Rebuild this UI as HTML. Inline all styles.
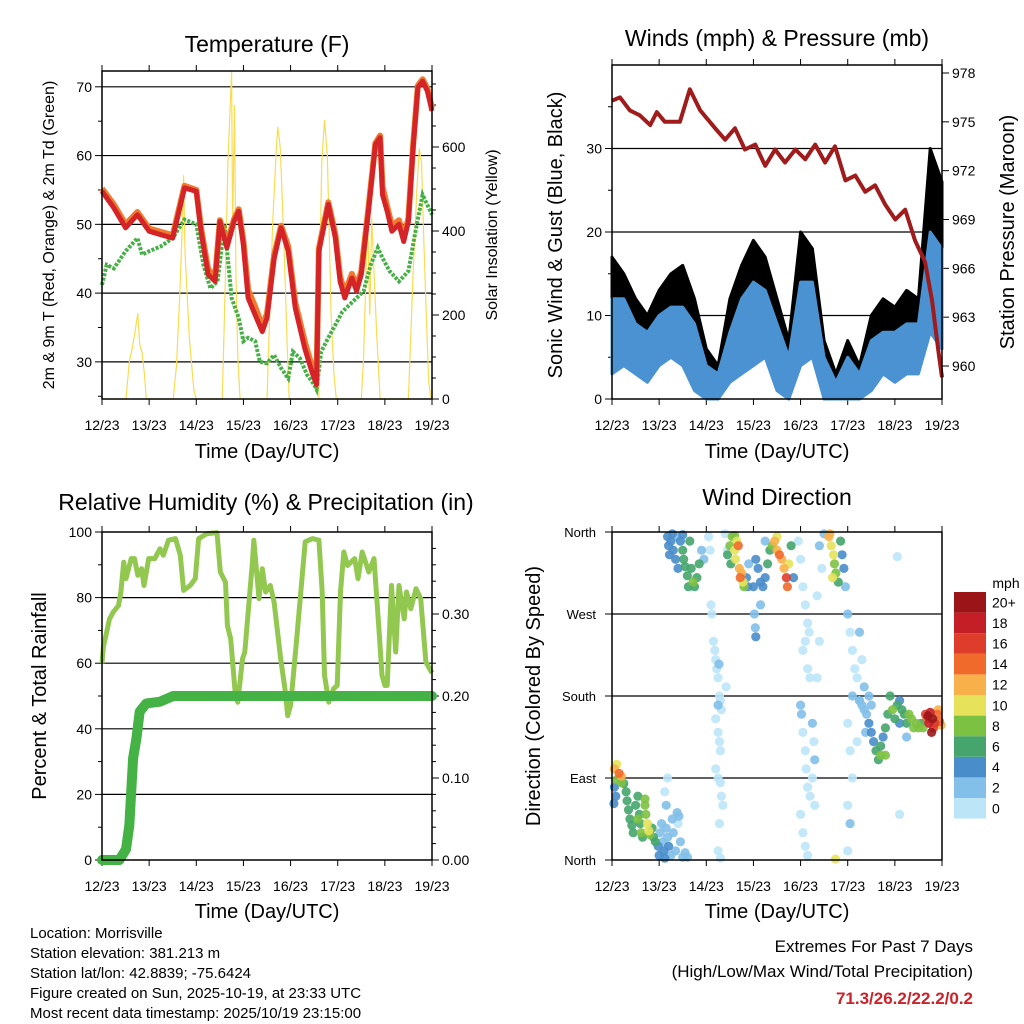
<!DOCTYPE html>
<html><head><meta charset="utf-8"><style>
html,body{margin:0;padding:0;background:#fff;}
svg{display:block;font-family:"Liberation Sans",Arial,sans-serif;}
</style></head><body>
<svg id="root" width="1024" height="1024" viewBox="0 0 1024 1024" xmlns="http://www.w3.org/2000/svg">
<rect width="1024" height="1024" fill="#fff"/>
<text x="267" y="52" font-size="23" text-anchor="middle">Temperature (F)</text>
<text x="777" y="46" font-size="23" text-anchor="middle">Winds (mph) &amp; Pressure (mb)</text>
<text x="266" y="510" font-size="23" text-anchor="middle">Relative Humidity (%) &amp; Precipitation (in)</text>
<text x="777" y="505" font-size="23" text-anchor="middle">Wind Direction</text>
<text x="267" y="458" font-size="20" text-anchor="middle">Time (Day/UTC)</text>
<text x="777" y="458" font-size="20" text-anchor="middle">Time (Day/UTC)</text>
<text x="267" y="918" font-size="20" text-anchor="middle">Time (Day/UTC)</text>
<text x="777" y="918" font-size="20" text-anchor="middle">Time (Day/UTC)</text>
<text transform="translate(54,235) rotate(-90)" font-size="16" text-anchor="middle">2m &amp; 9m T (Red, Orange) &amp; 2m Td (Green)</text>
<text transform="translate(497,235) rotate(-90)" font-size="16" text-anchor="middle">Solar Insolation (Yellow)</text>
<text transform="translate(562,235) rotate(-90)" font-size="20" text-anchor="middle">Sonic Wind &amp; Gust (Blue, Black)</text>
<text transform="translate(1014,232) rotate(-90)" font-size="20" text-anchor="middle">Station Pressure (Maroon)</text>
<text transform="translate(46,696) rotate(-90)" font-size="20" text-anchor="middle">Percent &amp; Total Rainfall</text>
<text transform="translate(540,696) rotate(-90)" font-size="20" text-anchor="middle">Direction (Colored By Speed)</text>
<g font-size="15">
<text x="30" y="938">Location: Morrisville</text>
<text x="30" y="958">Station elevation: 381.213 m</text>
<text x="30" y="978">Station lat/lon: 42.8839; -75.6424</text>
<text x="30" y="998">Figure created on Sun, 2025-10-19, at 23:33 UTC</text>
<text x="30" y="1018">Most recent data timestamp: 2025/10/19 23:15:00</text>
</g>
<g text-anchor="end" font-size="17">
<text x="973" y="952">Extremes For Past 7 Days</text>
<text x="973" y="977">(High/Low/Max Wind/Total Precipitation)</text>
<text x="973" y="1004" fill="#cc2229" font-weight="bold">71.3/26.2/22.2/0.2</text>
</g>
<text x="1006" y="588" font-size="14" text-anchor="middle">mph</text>
</svg>
<script>
// ---------- data ----------
const dayLabels = ["12/23","13/23","14/23","15/23","16/23","17/23","18/23","19/23"];
const tempTimes = [0,0.25,0.5,0.75,1.0,1.25,1.5,1.75,2.0,2.1,2.25,2.4,2.5,2.65,2.8,2.9,3.0,3.1,3.25,3.4,3.5,3.65,3.8,3.95,4.1,4.3,4.45,4.55,4.6,4.8,4.95,5.05,5.15,5.3,5.4,5.5,5.65,5.8,5.9,5.95,6.05,6.15,6.3,6.4,6.5,6.6,6.7,6.8,6.9,7.0];
const temp2m = [54.8,52.4,49.5,51.4,49,48.5,48,55.3,54.8,49,42.7,41.7,50.4,46.6,50.4,51.9,47,39.3,36.8,34.4,36.4,45,49.5,46.1,37.8,32,28.6,26.7,46.1,52.9,48,41.7,39.3,42.2,40.3,42.7,51.9,61.6,62.6,54.3,51.9,49,50,47.5,50.4,61.1,69.9,70.8,69.4,66.5];
const temp9m = [55.2,52.9,50,51.8,49.4,48.9,48.4,55.6,55,49.5,43.5,42.3,50.6,47.2,50.7,52.2,47.6,40.5,38,35.2,37,45.5,49.8,46.8,38.6,33,29.4,27.3,46.5,53.2,48.5,42.4,40,42.8,41,43.2,52.3,61.8,62.9,55.5,52.6,49.8,50.6,48.2,50.9,61.5,70.2,71.1,69.8,66.9];
const dewTimes = [0,0.1,0.25,0.5,0.75,0.85,1.0,1.25,1.5,1.75,2.0,2.15,2.3,2.45,2.6,2.75,2.9,3.0,3.1,3.25,3.35,3.5,3.65,3.8,3.95,4.05,4.2,4.35,4.5,4.55,4.65,4.8,4.95,5.1,5.25,5.4,5.55,5.7,5.85,5.95,6.1,6.3,6.5,6.65,6.8,7.0];
const dew2m = [41.2,44.1,43.6,46.1,48,45.6,46.1,46.8,48,50.7,50,44.1,40.7,41.7,50,39.3,36.4,33,33.5,33,30,29.8,31,29.1,27.6,31.5,30.5,28.1,26.7,26,31.5,33.5,35.4,37.3,38.3,39.3,40.3,44.1,46.6,45.1,43.2,41.7,43.2,49,54.3,51.4];
const solarTimes = [0,0.51,0.58,0.64,0.70,0.76,0.8,0.85,0.9,0.94,1.51,1.58,1.65,1.7,1.73,1.76,1.8,1.85,1.95,2.0,2.55,2.58,2.62,2.67,2.75,2.77,2.81,2.84,2.88,2.93,3.5,3.55,3.62,3.7,3.73,3.78,3.85,3.93,3.97,4.6,4.62,4.66,4.72,4.78,4.82,4.86,4.92,4.97,5.5,5.55,5.6,5.63,5.68,5.72,5.77,5.83,5.9,6.5,6.55,6.6,6.68,6.73,6.78,6.82,6.88,6.93,6.98,7.0];
const solarValues = [0,0,90,120,160,204,130,110,60,0,0,80,250,400,533,350,260,150,20,0,0,120,300,560,780,400,700,300,100,0,0,180,420,600,648,600,400,120,0,0,300,560,664,580,400,200,60,0,0,100,300,446,200,430,300,150,0,0,150,300,500,597,560,400,200,40,0,0];

const windTimes = [0,0.25,0.5,0.75,1,1.25,1.5,1.75,2,2.25,2.5,2.75,3,3.25,3.5,3.75,4,4.25,4.5,4.75,5,5.25,5.5,5.75,6,6.25,6.5,6.75,7];
const sonicLow = [3,4,3,2,4,5,4,1,0,0,2,3,4,5,1,0,4,5,0,0,0,0,1,3,2,3,3,8,6];
const sonicHigh = [12,12,9,8,10,11,11,9,4,3,8,12,14,13,9,5,14,14,5,2,5,3,7,8,8,9,9,20,18];
const gustLow = [5,7,5,4,6,8,7,3,0,0,4,5,7,7,3,0,7,7,0,0,0,0,3,5,4,5,5,12,10];
const gustHigh = [17,15,12,10,13,15,16,12,6,4,12,16,19,17,12,7,20,18,7,3,7,4,10,12,11,13,12,30,26];
const pressTimes = [0,0.17,0.38,0.59,0.81,0.95,1.12,1.44,1.65,1.87,2.19,2.4,2.61,2.82,3.04,3.25,3.46,3.67,3.89,4.1,4.31,4.52,4.73,4.95,5.16,5.37,5.58,5.8,6.01,6.22,6.43,6.64,6.79,6.92,7.0];
const pressValues = [976.3,976.5,975.7,975.4,974.8,975.6,975,975,977,975.7,974.6,973.9,974.6,973.3,973.6,972.3,973.3,972.5,973.3,972.7,973.6,972.5,973.5,971.4,971.7,970.7,971.1,969.9,969,969.6,967.7,966.4,964,961,959.3];

const rhTimes = [0,0.03,0.1,0.16,0.24,0.35,0.4,0.46,0.51,0.62,0.69,0.76,0.84,0.89,0.99,1.12,1.23,1.3,1.41,1.56,1.66,1.73,1.87,1.98,2.05,2.23,2.44,2.51,2.62,2.66,2.73,2.83,2.88,2.98,3.03,3.19,3.22,3.33,3.4,3.47,3.57,3.65,3.79,3.89,3.94,4.0,4.13,4.31,4.46,4.6,4.67,4.72,4.81,4.91,4.99,5.06,5.13,5.21,5.36,5.43,5.52,5.66,5.77,5.87,5.94,6.0,6.05,6.14,6.23,6.3,6.41,6.46,6.55,6.66,6.76,6.87,7.0];
const rhValues = [60,65,69.5,73.5,75.6,77.6,81.7,90.8,85.8,91.9,91.9,86.8,88.8,83.7,91.9,91.9,94.9,92.9,97.5,98,92.9,82.2,83.7,85.8,98,99.5,99.8,87.8,84.7,71.5,67.4,50.2,48.1,61.3,63.4,90.8,97.5,79.7,88.8,81.7,83.7,78.6,61.3,51.2,44,47.1,67.4,97,98,97.5,81.7,56.3,48.1,52.2,53.2,81.7,93.9,89.8,91.9,85.8,93.9,87.8,91.9,71.5,56.3,53.2,53.2,83.7,63.4,83.7,73.5,81.7,76.6,82.7,79.7,60.3,57];
const precipTimes = [0,0.37,0.51,0.58,0.66,0.73,0.8,0.94,1.23,1.51,7.0];
const precipValues = [0,0,0.013,0.042,0.124,0.148,0.181,0.191,0.193,0.2,0.2];

// wind direction observations: [day, degrees, mph]
const dirObs = [
[0.05,100,12],[0.1,105,10],[0.15,95,14],[0.2,92,12],[0.1,88,8],[0.05,80,4],[0.08,70,4],[0.04,62,4],[0.2,85,8],[0.25,84,6],
[0.3,75,6],[0.32,65,6],[0.35,55,7],[0.38,45,6],[0.42,38,6],[0.45,30,6],[0.5,60,7],[0.55,70,6],[0.58,50,7],[0.6,40,6],[0.62,30,8],[0.65,25,6],[0.7,60,9],[0.72,50,9],[0.75,40,10],[0.78,32,10],[0.8,28,8],[0.85,35,6],[0.88,25,6],[0.92,20,7],[0.7,67,8],[0.55,45,8],
[0.98,15,4],[1.0,5,4],[1.02,30,2],[1.05,40,2],[1.08,20,3],[1.1,10,4],[1.12,2,4],[1.15,35,2],[1.18,25,3],[1.2,15,4],[1.25,5,3],[1.28,45,3],[1.3,30,2],[1.35,10,3],[1.4,40,1],[1.45,20,2],[1.5,3,3],[1.55,8,2],[1.6,3,2],[1.15,60,2],[1.12,75,1],[1.18,90,1],[1.38,52,2],[1.42,48,3],
[1.18,355,4],[1.2,345,4],[1.22,335,5],[1.25,350,4],[1.3,340,4],[1.35,330,5],[1.4,320,5],[1.45,350,4],[1.5,340,6],[1.52,330,7],[1.55,322,6],[1.6,312,6],[1.62,300,7],[1.68,320,7],[1.72,305,8],[1.75,300,7],[1.8,310,7],[1.85,325,6],[1.9,340,3],[1.95,330,2],[1.28,358,4],[1.5,357,5],[1.38,355,3],[1.65,350,6],
[2.05,355,1],[2.08,340,0],[2.1,280,1],[2.12,270,0],[2.15,240,1],[2.18,230,0],[2.2,220,1],[2.22,210,0],[2.25,200,1],[2.28,180,0],[2.3,175,1],[2.32,165,0],[2.2,155,1],[2.25,140,0],[2.28,130,1],[2.3,120,0],[2.2,100,0],[2.25,90,1],[2.3,85,0],[2.32,70,1],[2.35,60,0],[2.28,40,1],[2.25,10,0],[2.3,2,0],[2.45,340,1],[2.4,358,0],[2.42,190,1],[2.27,215,3],[2.25,170,2],
[2.45,335,7],[2.5,345,8],[2.52,325,6],[2.55,355,9],[2.6,340,10],[2.62,330,10],[2.65,350,11],[2.7,320,12],[2.72,310,14],[2.75,315,12],[2.78,305,10],[2.8,300,8],[2.85,310,4],[2.88,300,4],[2.9,325,3],[2.6,356,8],[2.68,345,14],
[3.02,270,3],[3.04,255,3],[3.05,245,4],[3.0,300,4],
[3.05,330,4],[3.1,320,4],[3.15,305,4],[3.2,300,5],[3.25,310,4],[3.3,325,6],[3.35,340,7],[3.4,345,8],[3.45,350,12],[3.5,340,13],[3.55,335,14],[3.6,330,12],[3.65,320,12],[3.7,310,16],[3.72,300,14],[3.75,325,10],[3.8,345,6],[3.85,310,4],[3.25,350,2],[3.15,280,2],[3.5,355,11],
[3.95,350,1],[4.0,330,0],[4.05,300,1],[4.1,280,0],[4.15,260,1],[4.18,250,0],[4.1,240,0],[4.05,230,1],[4.15,210,0],[4.2,200,1],[4.0,170,3],[4.02,160,2],[4.05,140,0],[4.1,120,1],[4.12,100,0],[4.15,80,1],[4.2,70,0],[4.0,50,0],[4.05,30,1],[4.1,15,0],[4.15,5,0],[4.25,150,2],[4.28,130,1],[4.3,110,2],[4.25,90,0],[4.3,60,1],[4.5,358,2],[4.4,345,2],[4.45,320,0],[4.35,290,1],[4.4,240,1],[4.35,200,0],[4.74,1,10],
[4.6,355,12],[4.65,345,11],[4.7,335,10],[4.72,325,9],[4.75,315,8],[4.8,305,7],[4.85,350,6],[4.88,335,4],[4.92,320,4],[4.95,300,3],[4.62,358,13],[4.68,310,10],
[5.0,270,2],[5.05,250,1],[5.1,230,1],[5.15,210,0],[5.2,200,1],[5.1,180,2],[5.0,150,1],[5.05,120,0],[5.1,90,1],[5.0,60,0],[5.05,40,3],[5.0,10,0],[5.25,175,2],[5.2,130,0],[5.3,220,1],[5.25,250,2],
[5.25,175,2],[5.3,170,3],[5.35,165,2],[5.4,160,3],[5.45,150,4],[5.5,140,4],[5.55,130,5],[5.6,120,6],[5.65,110,7],[5.7,125,6],[5.75,135,5],[5.8,145,7],[5.85,160,6],[5.9,180,7],[5.95,165,8],[6.0,155,7],[6.05,170,6],[6.1,150,4],[5.35,190,2],[5.45,180,2],[5.5,170,3],[5.38,140,3],[5.8,115,9],[5.7,115,8],[6.1,175,4],[6.15,165,6],[6.2,160,7],[6.25,150,6],[6.3,160,8],[6.35,155,8],[6.4,145,8],[6.45,150,9],[6.5,145,8],[6.55,150,7],[6.6,145,8],[6.25,135,3],[6.1,50,1],[6.05,333,1],
[6.65,160,16],[6.7,158,20],[6.72,150,19],[6.75,162,18],[6.8,155,20],[6.82,145,17],[6.85,150,16],[6.9,160,14],[6.95,152,15],[6.98,148,13],[6.78,140,21],[6.68,155,14],[6.92,165,12]
];
const speedLabels = ["0","2","4","6","8","10","12","14","16","18","20+"];
const speedColors = ["#bde5f8","#82bfe9","#4a8dcb","#45a56d","#7dc142","#e6e35a","#f8b04a","#f06a2c","#de3d2b","#c41f26","#9b1518"];
const dirLabels = ["North","East","South","West","North"];

// ---------- helpers ----------
const NS="http://www.w3.org/2000/svg";
const root=document.getElementById('root');
function mk(tag,name,parent){
  const el=document.createElementNS(NS,tag);
  
  
  (parent||root).appendChild(el);
  return el;
}
function lin(d0,d1,r0,r1){return v=>r0+(v-d0)/(d1-d0)*(r1-r0);}
function path(xs,ys,fx,fy){let d='';for(let i=0;i<xs.length;i++){d+=(i?'L':'M')+fx(xs[i]).toFixed(1)+' '+fy(ys[i]).toFixed(1);}return d;}
function line(x1,y1,x2,y2,name,w,c){const l=mk('line',name);l.setAttribute('x1',x1);l.setAttribute('y1',y1);l.setAttribute('x2',x2);l.setAttribute('y2',y2);l.setAttribute('stroke',c||'#000');l.setAttribute('stroke-width',w||1);return l;}
function txt(x,y,s,name,anchor,size){const t=mk('text',name);t.setAttribute('x',x);t.setAttribute('y',y);t.setAttribute('font-size',size||14);t.setAttribute('text-anchor',anchor||'middle');t.textContent=s;return t;}

function frame(x0,x1,y0,y1,prefix){
  const fx=lin(0,7,x0,x1);
  for(let i=0;i<dayLabels.length;i++){
    const x=fx(i);
    line(x,y1,x,y1+6,prefix+'-x-tick');
    line(x,y0,x,y0-6,prefix+'-x-tick-top');
    txt(x,y1+31,dayLabels[i],prefix+'-x-label','middle',14);
  }
  return fx;
}
function box(x0,x1,y0,y1,name){const r=mk('rect',name);r.setAttribute('x',x0);r.setAttribute('y',y0);r.setAttribute('width',x1-x0);r.setAttribute('height',y1-y0);r.setAttribute('fill','none');r.setAttribute('stroke','#000');r.setAttribute('stroke-width',1.5);}

// ---------- Panel 1: temperature ----------
(function(){
  const x0=102,x1=432,y0=71,y1=399;
  const fx=frame(x0,x1,y0,y1,'temp');
  const fy=lin(24.6,72.3,y1,y0), fs=lin(0,781,y1,y0);
  [30,40,50,60,70].forEach(v=>{line(x0,fy(v),x1,fy(v),'temp-gridline',1.2);line(x0-7,fy(v),x0,fy(v),'temp-y-tick');txt(x0-10,fy(v)+5,String(v),'temp-y-label','end',14);});
  [25,35,45,55,65].forEach(v=>line(x0-4,fy(v),x0,fy(v),'temp-y-minor-tick'));
  [0,200,400,600].forEach(v=>{line(x1,fs(v),x1+7,fs(v),'solar-y-tick');txt(x1+10,fs(v)+5,String(v),'solar-y-label','start',14);});
  for(let v=50;v<780;v+=50){if(v%200)line(x1,fs(v),x1+4,fs(v),'solar-minor-tick');}
  const s=mk('path','solar-line');s.setAttribute('d',path(solarTimes,solarValues,fx,fs));s.setAttribute('fill','none');s.setAttribute('stroke','#f9dc50');s.setAttribute('stroke-width',1.2);
  const g=mk('path','dewpoint-2m-line');g.setAttribute('d',path(dewTimes,dew2m,fx,fy));g.setAttribute('fill','none');g.setAttribute('stroke','#46b046');g.setAttribute('stroke-width',4);g.setAttribute('stroke-dasharray','3 1.5');
  const o=mk('path','temp-9m-line');o.setAttribute('d',path(tempTimes,temp9m,fx,fy));o.setAttribute('fill','none');o.setAttribute('stroke','#f07a30');o.setAttribute('stroke-width',6);o.setAttribute('stroke-linejoin','round');
  const r=mk('path','temp-2m-line');r.setAttribute('d',path(tempTimes,temp2m,fx,fy));r.setAttribute('fill','none');r.setAttribute('stroke','#d42428');r.setAttribute('stroke-width',5);r.setAttribute('stroke-linejoin','round');
  box(x0,x1,y0,y1,'temp-plot-frame');
})();

// ---------- Panel 2: wind & pressure ----------
(function(){
  const x0=612,x1=942,y0=65,y1=399;
  const fx=frame(x0,x1,y0,y1,'wind');
  const fy=lin(0,40,y1,y0), fp=lin(960,978,366,73);
  [10,20,30].forEach(v=>line(x0,fy(v),x1,fy(v),'wind-gridline',1.2));
  [0,10,20,30].forEach(v=>{line(x0-7,fy(v),x0,fy(v),'wind-y-tick');txt(x0-10,fy(v)+5,String(v),'wind-y-label','end',14);});
  [5,15,25,35].forEach(v=>line(x0-4,fy(v),x0,fy(v),'wind-y-minor-tick'));
  [960,963,966,969,972,975,978].forEach(v=>{line(x1,fp(v),x1+7,fp(v),'pressure-y-tick');txt(x1+10,fp(v)+5,String(v),'pressure-y-label','start',14);});
  function band(lo,hi,name,color){
    let d='';
    for(let i=0;i<windTimes.length;i++)d+=(i?'L':'M')+fx(windTimes[i]).toFixed(1)+' '+fy(hi[i]).toFixed(1);
    for(let i=windTimes.length-1;i>=0;i--)d+='L'+fx(windTimes[i]).toFixed(1)+' '+fy(lo[i]).toFixed(1);
    const p=mk('path',name);p.setAttribute('d',d+'Z');p.setAttribute('fill',color);p.setAttribute('stroke',color);p.setAttribute('stroke-width',3);p.setAttribute('stroke-linejoin','round');
  }
  band(gustLow,gustHigh,'gust-band','#000');
  band(sonicLow,sonicHigh,'sonic-wind-band','#4a92d2');
  const p=mk('path','pressure-line');p.setAttribute('d',path(pressTimes,pressValues,fx,fp));p.setAttribute('fill','none');p.setAttribute('stroke','#a01c1c');p.setAttribute('stroke-width',4);p.setAttribute('stroke-linejoin','round');
  box(x0,x1,y0,y1,'wind-plot-frame');
})();

// ---------- Panel 3: RH & precip ----------
(function(){
  const x0=102,x1=432,y0=532,y1=860;
  const fx=frame(x0,x1,y0,y1,'rh');
  const fy=lin(0,100,y1,y0), fp=lin(0,0.4,y1,y0);
  [20,40,60,80].forEach(v=>line(x0,fy(v),x1,fy(v),'rh-gridline',1.2));
  [0,20,40,60,80,100].forEach(v=>{line(x0-7,fy(v),x0,fy(v),'rh-y-tick');txt(x0-10,fy(v)+5,String(v),'rh-y-label','end',14);});
  [10,30,50,70,90].forEach(v=>line(x0-4,fy(v),x0,fy(v),'rh-y-minor-tick'));
  [0,0.1,0.2,0.3].forEach(v=>{line(x1,fp(v),x1+7,fp(v),'precip-y-tick');txt(x1+10,fp(v)+5,v.toFixed(2),'precip-y-label','start',14);});
  for(let v=0.02;v<0.4;v+=0.02){line(x1,fp(v),x1+4,fp(v),'precip-minor-tick');}
  const r=mk('path','rh-line');r.setAttribute('d',path(rhTimes,rhValues,fx,fy));r.setAttribute('fill','none');r.setAttribute('stroke','#92c850');r.setAttribute('stroke-width',5);r.setAttribute('stroke-linejoin','round');
  const p=mk('path','precip-line');p.setAttribute('d',path(precipTimes,precipValues,fx,fp));p.setAttribute('fill','none');p.setAttribute('stroke','#44b244');p.setAttribute('stroke-width',10);p.setAttribute('stroke-linejoin','round');p.setAttribute('stroke-linecap','round');
  box(x0,x1,y0,y1,'rh-plot-frame');
})();

// ---------- Panel 4: wind direction ----------
(function(){
  const x0=612,x1=942,y0=532,y1=860;
  const fx=frame(x0,x1,y0,y1,'dir');
  const fy=lin(0,360,y1,y0);
  [90,180,270].forEach(v=>line(x0,fy(v),x1,fy(v),'dir-gridline',1.2));
  dirLabels.forEach((s,i)=>{const v=i*90;line(x0-7,fy(v),x0,fy(v),'dir-y-tick');txt(x0-16,fy(v)+5,s,'dir-y-label','end',13);});
  function colorFor(s){let k=Math.floor(s/2);if(k>10)k=10;return speedColors[k];}
  const sorted=dirObs.slice().sort((a,b)=>a[2]-b[2]);
  sorted.forEach(o=>{
    const c=mk('circle','direction-point');
    c.setAttribute('cx',fx(o[0]).toFixed(1));c.setAttribute('cy',fy(o[1]).toFixed(1));c.setAttribute('r',4.6);c.setAttribute('fill',colorFor(o[2]));c.setAttribute('fill-opacity',0.9);
  });
  box(x0,x1,y0,y1,'dir-plot-frame');
  const cy0=592,h=20.6;
  speedColors.forEach((c,i)=>{
    const y=cy0+(10-i)*h;
    const r=mk('rect','colorbar-swatch');r.setAttribute('x',954);r.setAttribute('y',y);r.setAttribute('width',32);r.setAttribute('height',h);r.setAttribute('fill',c);
    txt(992,y+h/2+5,speedLabels[i],'colorbar-label','start',14);
  });
})();
</script>
</body></html>
